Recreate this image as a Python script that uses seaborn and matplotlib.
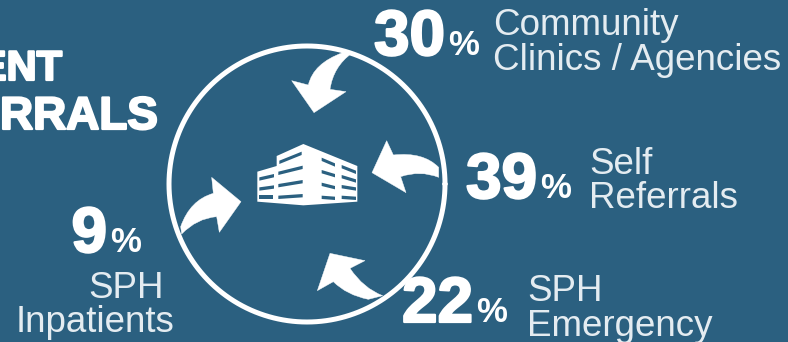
import numpy as np
import pandas as pd
import matplotlib
matplotlib.use("Agg")
import matplotlib.pyplot as plt
import matplotlib.patheffects as pe
from matplotlib.patches import PathPatch, Polygon
from matplotlib.path import Path
import seaborn as sns

# Where patients come from
sources = ["Community\nClinics / Agencies", "Self\nReferrals", "SPH\nEmergency", "SPH\nInpatients"]
shares = [30, 39, 22, 9]
heading = ["ENT", "RRALS"]

BG = "#2b6080"
INK = "white"

# Layout in pixels: number right edge, number baseline, then x and baseline of each label line
layout = [
    (445, 55, (493, 35, "left"), (493, 70, "left")),
    (537, 198, (589, 174, "left"), (589, 208, "left")),
    (473, 322, (527, 301, "left"), (527, 336, "left")),
    (107, 252, (164, 298, "right"), (175, 332, "right")),
]

sns.set_theme(style="white")
W, H = 788, 342
fig = plt.figure(figsize=(W / 100, H / 100), dpi=100, facecolor=BG)
ax = fig.add_axes([0, 0, 1, 1], facecolor=BG)

# Ring around the facility
cx, cy, r = 307, 184, 138
theta = np.linspace(0, 2 * np.pi, 361)
ring = pd.DataFrame({"x": cx + r * np.cos(theta), "y": cy + r * np.sin(theta)})
sns.lineplot(data=ring, x="x", y="y", sort=False, estimator=None, color=INK, lw=3.6, ax=ax)
ax.set_xlim(0, W)
ax.set_ylim(H, 0)
ax.axis("off")


def px(points):
    """Convert detail-sheet units (3 per pixel, offset) to canvas pixels."""
    return [(x / 3 + 160, y / 3 + 30) for x, y in points]


def arrow(tail_a, ctrl_a, neck_a, head, neck_b, ctrl_b, tail_b):
    verts = px([tail_a, ctrl_a, neck_a, *head, neck_b, ctrl_b, tail_b, tail_a])
    codes = [Path.MOVETO, Path.CURVE3, Path.CURVE3] + [Path.LINETO] * (len(head) + 1) + [Path.CURVE3, Path.CURVE3, Path.CLOSEPOLY]
    ax.add_patch(PathPatch(Path(verts, codes), fc=INK, ec=INK, lw=0.3, zorder=3))


arrow((575, 70), (520, 110), (510, 178), [(558, 185), (462, 248), (395, 152)], (445, 165), (460, 100), (548, 68))
arrow((836, 412), (790, 365), (700, 375), [(680, 332), (636, 428), (738, 488)], (722, 440), (780, 420), (836, 442))
arrow((668, 797), (610, 775), (570, 715), [(615, 692), (510, 670), (472, 782)], (520, 755), (560, 795), (625, 808))
arrow((62, 590), (90, 510), (160, 490), [(155, 442), (243, 515), (178, 607)], (170, 560), (110, 565), (65, 612))

# Building silhouette with window slits cut out in the background colour
outline = [(292, 425), (350, 408), (350, 378), (430, 342), (592, 408), (592, 515),
           (430, 526), (292, 515)]
ax.add_patch(Polygon(px(outline), closed=True, fc=INK, ec="none", zorder=3))
slits = [
    ((358, 392), (425, 365)),
    ((355, 425), (428, 407)),
    ((355, 462), (428, 450)),
    ((355, 497), (428, 492)),
    ((298, 442), (342, 432)),
    ((298, 472), (342, 466)),
    ((298, 496), (338, 496)),
    ((485, 383), (525, 400)),
    ((545, 405), (588, 422)),
    ((485, 420), (525, 432)),
    ((545, 435), (588, 448)),
    ((485, 458), (525, 468)),
    ((545, 465), (588, 472)),
    ((485, 497), (525, 500)),
    ((545, 497), (588, 500)),
]
for a, b in slits:
    quad = [a, b, (b[0], b[1] + 10), (a[0], a[1] + 10)]
    ax.add_patch(Polygon(px(quad), closed=True, fc=BG, ec="none", zorder=4))

heavy = [pe.withStroke(linewidth=1.6, foreground=INK)]

# Percentages and source names
for label, share, (nx, ny, line1, line2) in zip(sources, shares, layout):
    ax.text(nx + 3, ny, "%", ha="left", va="baseline", color=INK, fontsize=25,
            family="Liberation Sans", fontweight="bold")
    ax.text(nx, ny, str(share), ha="right", va="baseline", color=INK, fontsize=46,
            family="Liberation Sans", fontweight="bold", path_effects=heavy)
    for text, (lx, ly, align) in zip(label.split("\n"), (line1, line2)):
        ax.text(lx, ly, text, ha=align, va="baseline", color="#e4ecf1", fontsize=26.5,
                family="Liberation Sans")

# Heading, running off the left edge
for text, right, base, size in zip(heading, (62, 158), (80, 129), (30, 33)):
    ax.text(right, base, text, ha="right", va="baseline", color=INK, fontsize=size,
            family="Liberation Sans", fontweight="bold", path_effects=heavy)

fig.savefig("out.png", dpi=100, facecolor=BG)
